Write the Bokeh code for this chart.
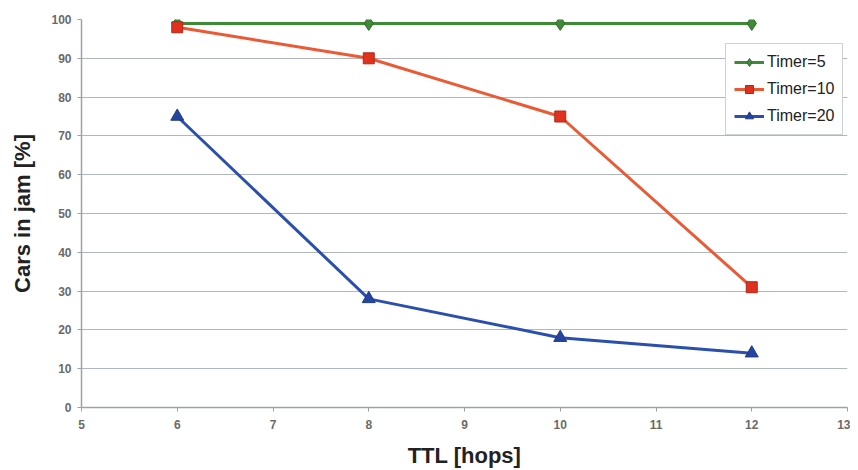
from bokeh.plotting import figure
from bokeh.models import Range1d, FixedTicker, Legend, LegendItem
from bokeh.embed import file_html
from bokeh.resources import INLINE

ttl = [6, 8, 10, 12]
timer5 = [99, 99, 99, 99]
timer10 = [98, 90, 75, 31]
timer20 = [75, 28, 18, 14]
x_ticks = [5, 6, 7, 8, 9, 10, 11, 12, 13]
y_ticks = [0, 10, 20, 30, 40, 50, 60, 70, 80, 90, 100]

p = figure(width=850, height=470, output_backend="svg", toolbar_location=None,
           x_range=Range1d(5, 13), y_range=Range1d(0, 100),
           min_border_left=81, min_border_right=3, min_border_top=19, min_border_bottom=61)
p.outline_line_color = None
p.xgrid.grid_line_color = None
p.ygrid.grid_line_color = "#b0b6ba"
p.ygrid.grid_line_width = 1

for ax in (p.xaxis, p.yaxis):
    ax.axis_line_color = "#9aa3a8"
    ax.axis_line_width = 1.5
    ax.major_tick_line_color = "#9aa3a8"
    ax.minor_tick_line_color = None
    ax.major_tick_out = 4
    ax.major_tick_in = 0
    ax.major_label_text_font = "Liberation Sans"
    ax.major_label_text_font_size = "12px"
    ax.major_label_text_font_style = "bold"
    ax.major_label_text_color = "#6a6a6a"
    ax.axis_label_text_font = "Liberation Sans"
    ax.axis_label_text_font_style = "bold"
    ax.axis_label_text_font_size = "22px"
    ax.axis_label_text_color = "#222222"

p.xaxis.ticker = FixedTicker(ticks=x_ticks)
p.yaxis.ticker = FixedTicker(ticks=y_ticks)
p.xaxis.axis_label = "TTL [hops]"
p.yaxis.axis_label = "Cars in jam [%]"
p.xaxis.major_label_standoff = 8
p.yaxis.major_label_standoff = 6
p.xaxis.axis_label_standoff = 11
p.yaxis.axis_label_standoff = 13

g_line = p.line(ttl, timer5, color="#3f8a37", line_width=3)
g_mark = p.scatter(ttl, timer5, marker="diamond", size=14, fill_color="#3f8a37", line_color="#2f6a2a")
r_line = p.line(ttl, timer10, color="#ec5a35", line_width=3)
r_mark = p.scatter(ttl, timer10, marker="square", size=11, fill_color="#e0301e", line_color="#b02818")
b_line = p.line(ttl, timer20, color="#2a4fae", line_width=3)
b_mark = p.scatter(ttl, timer20, marker="triangle", size=13, fill_color="#24449e", line_color="#1e3a8a")

legend = Legend(items=[
    LegendItem(label="Timer=5", renderers=[g_line, g_mark]),
    LegendItem(label="Timer=10", renderers=[r_line, r_mark]),
    LegendItem(label="Timer=20", renderers=[b_line, b_mark]),
], location=(644, 272))
legend.label_text_font = "Liberation Sans"
legend.label_text_font_size = "16px"
legend.label_text_color = "#222222"
legend.border_line_color = "#9aa3a8"
legend.border_line_width = 1
legend.background_fill_alpha = 1
legend.margin = 0
legend.padding = 8
legend.spacing = 7
legend.glyph_width = 30
legend.label_standoff = 3
p.add_layout(legend)

open("out.html", "w").write(file_html(p, INLINE))
